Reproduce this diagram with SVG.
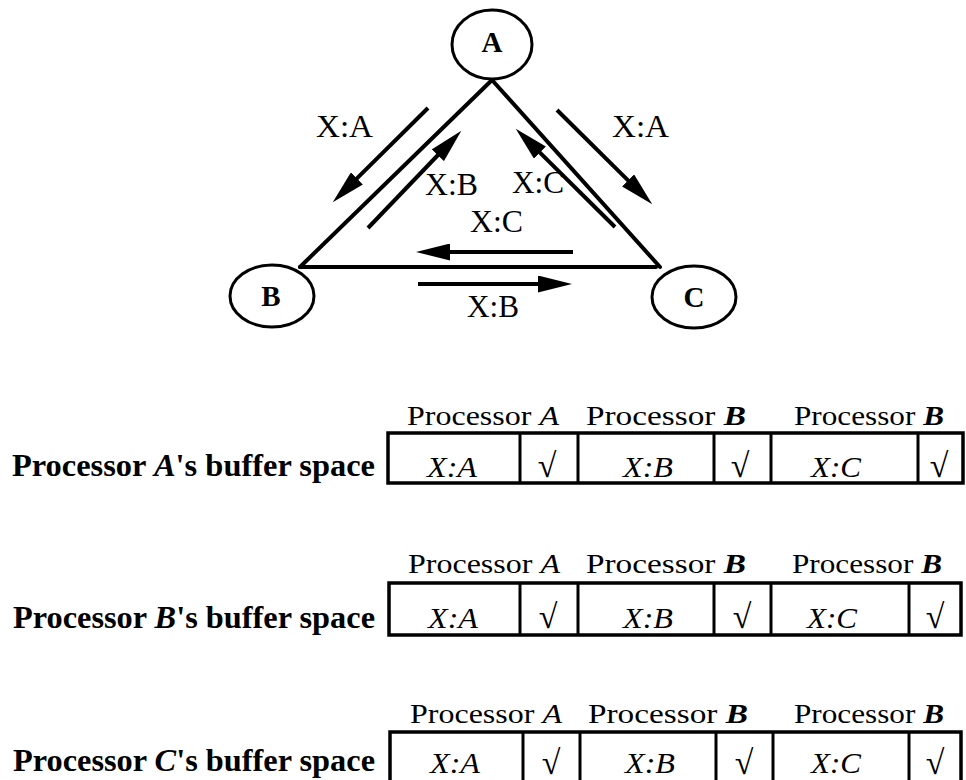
<svg xmlns="http://www.w3.org/2000/svg" width="966" height="780" viewBox="0 0 966 780">
  <style>
    .edge { stroke: #000; stroke-width: 4; fill: none; stroke-linecap: round; }
    .arrow { stroke: #000; stroke-width: 4; fill: none; stroke-linecap: butt; marker-end: url(#head); }
    .node { fill: #fff; stroke: #000; stroke-width: 3; }
    .nlabel { font-family: "Liberation Serif", "Times New Roman", serif; font-weight: bold; font-size: 29px; text-anchor: middle; }
    .elabel { font-family: "Liberation Serif", "Times New Roman", serif; font-size: 31px; }
    .hdr { font-family: "Liberation Serif", "Times New Roman", serif; font-size: 28px; }
    .rowlbl { font-family: "Liberation Serif", "Times New Roman", serif; font-size: 32px; font-weight: bold; }
    .cell { font-family: "Liberation Serif", "Times New Roman", serif; font-size: 29px; font-style: italic; text-anchor: middle; }
    .tick { font-family: "Liberation Serif", "DejaVu Serif", serif; font-size: 34px; text-anchor: middle; }
    .box { fill: none; stroke: #000; stroke-width: 3.5; }
    .div { stroke: #000; stroke-width: 3; }
  </style>
  <defs>
    <marker id="head" markerUnits="userSpaceOnUse" markerWidth="34" markerHeight="17" viewBox="0 0 34 17" refX="1" refY="8.5" orient="auto">
      <path d="M0,0 L34,8.5 L0,17 z" fill="#000"/>
    </marker>
  </defs>
  <rect width="966" height="780" fill="#fff"/>

  <!-- links between processors, with message flows -->
  <g id="connectors">
    <line class="edge" x1="492" y1="80" x2="300" y2="267"/>
    <line class="edge" x1="492" y1="80" x2="660" y2="267"/>
    <line class="edge" x1="300" y1="267" x2="656" y2="267"/>

    <line class="arrow" x1="428" y1="108" x2="356.2" y2="179.1"/>
    <line class="arrow" x1="368" y1="228" x2="438.5" y2="154.5"/>
    <line class="arrow" x1="615" y1="227" x2="539.2" y2="151.9"/>
    <line class="arrow" x1="557" y1="110" x2="628.8" y2="181.1"/>
    <line class="arrow" x1="573" y1="252" x2="449" y2="252"/>
    <line class="arrow" x1="418" y1="284" x2="539" y2="284"/>

    <text class="elabel" x="316" y="137" textLength="57" lengthAdjust="spacingAndGlyphs">X:A</text>
    <text class="elabel" x="612" y="137" textLength="57" lengthAdjust="spacingAndGlyphs">X:A</text>
    <text class="elabel" x="425" y="195" textLength="53" lengthAdjust="spacingAndGlyphs">X:B</text>
    <text class="elabel" x="512" y="193" textLength="52" lengthAdjust="spacingAndGlyphs">X:C</text>
    <text class="elabel" x="470" y="232" textLength="53" lengthAdjust="spacingAndGlyphs">X:C</text>
    <text class="elabel" x="467" y="317" textLength="52" lengthAdjust="spacingAndGlyphs">X:B</text>
  </g>

  <g id="node-A">
    <ellipse class="node" cx="492" cy="44.5" rx="40" ry="34.5"/>
    <text class="nlabel" x="492" y="52">A</text>
  </g>
  <g id="node-B">
    <ellipse class="node" cx="272" cy="296" rx="42" ry="31"/>
    <text class="nlabel" x="271" y="306">B</text>
  </g>
  <g id="node-C">
    <ellipse class="node" cx="694" cy="297" rx="42" ry="31"/>
    <text class="nlabel" x="694" y="307">C</text>
  </g>

  <!-- buffer space of processor A -->
  <g id="buffer-A">
    <text class="hdr" x="407" y="425" textLength="152" lengthAdjust="spacingAndGlyphs">Processor <tspan font-style="italic">A</tspan></text>
    <text class="hdr" x="586" y="425" textLength="160" lengthAdjust="spacingAndGlyphs">Processor <tspan font-style="italic" font-weight="bold">B</tspan></text>
    <text class="hdr" x="794" y="425" textLength="150" lengthAdjust="spacingAndGlyphs">Processor <tspan font-style="italic" font-weight="bold">B</tspan></text>
    <text class="rowlbl" x="12" y="476" textLength="363" lengthAdjust="spacingAndGlyphs">Processor <tspan font-style="italic">A</tspan>'s buffer space</text>
    <rect class="box" x="388" y="433" width="575" height="50"/>
    <line class="div" x1="520" y1="433" x2="520" y2="483"/>
    <line class="div" x1="578" y1="433" x2="578" y2="483"/>
    <line class="div" x1="714" y1="433" x2="714" y2="483"/>
    <line class="div" x1="771" y1="433" x2="771" y2="483"/>
    <line class="div" x1="918" y1="433" x2="918" y2="483"/>
    <text class="cell" x="452" y="477" textLength="50" lengthAdjust="spacingAndGlyphs">X:A</text>
    <text class="tick" x="547" y="477">√</text>
    <text class="cell" x="648" y="477" textLength="50" lengthAdjust="spacingAndGlyphs">X:B</text>
    <text class="tick" x="740" y="477">√</text>
    <text class="cell" x="836" y="477" textLength="50" lengthAdjust="spacingAndGlyphs">X:C</text>
    <text class="tick" x="939" y="477">√</text>
  </g>

  <!-- buffer space of processor B -->
  <g id="buffer-B">
    <text class="hdr" x="408" y="573" textLength="152" lengthAdjust="spacingAndGlyphs">Processor <tspan font-style="italic">A</tspan></text>
    <text class="hdr" x="586" y="573" textLength="160" lengthAdjust="spacingAndGlyphs">Processor <tspan font-style="italic" font-weight="bold">B</tspan></text>
    <text class="hdr" x="792" y="573" textLength="150" lengthAdjust="spacingAndGlyphs">Processor <tspan font-style="italic" font-weight="bold">B</tspan></text>
    <text class="rowlbl" x="13" y="628" textLength="362" lengthAdjust="spacingAndGlyphs">Processor <tspan font-style="italic">B</tspan>'s buffer space</text>
    <rect class="box" x="389" y="583" width="572" height="52"/>
    <line class="div" x1="520" y1="583" x2="520" y2="635"/>
    <line class="div" x1="578" y1="583" x2="578" y2="635"/>
    <line class="div" x1="714" y1="583" x2="714" y2="635"/>
    <line class="div" x1="771" y1="583" x2="771" y2="635"/>
    <line class="div" x1="909" y1="583" x2="909" y2="635"/>
    <text class="cell" x="453" y="628" textLength="50" lengthAdjust="spacingAndGlyphs">X:A</text>
    <text class="tick" x="548" y="628">√</text>
    <text class="cell" x="648" y="628" textLength="50" lengthAdjust="spacingAndGlyphs">X:B</text>
    <text class="tick" x="742" y="628">√</text>
    <text class="cell" x="832" y="628" textLength="50" lengthAdjust="spacingAndGlyphs">X:C</text>
    <text class="tick" x="935" y="628">√</text>
  </g>

  <!-- buffer space of processor C -->
  <g id="buffer-C">
    <text class="hdr" x="410" y="723" textLength="152" lengthAdjust="spacingAndGlyphs">Processor <tspan font-style="italic">A</tspan></text>
    <text class="hdr" x="588" y="723" textLength="160" lengthAdjust="spacingAndGlyphs">Processor <tspan font-style="italic" font-weight="bold">B</tspan></text>
    <text class="hdr" x="794" y="723" textLength="150" lengthAdjust="spacingAndGlyphs">Processor <tspan font-style="italic" font-weight="bold">B</tspan></text>
    <text class="rowlbl" x="13" y="771" textLength="362" lengthAdjust="spacingAndGlyphs">Processor <tspan font-style="italic">C</tspan>'s buffer space</text>
    <rect class="box" x="390" y="732" width="571" height="52"/>
    <line class="div" x1="523" y1="732" x2="523" y2="784"/>
    <line class="div" x1="580" y1="732" x2="580" y2="784"/>
    <line class="div" x1="716" y1="732" x2="716" y2="784"/>
    <line class="div" x1="773" y1="732" x2="773" y2="784"/>
    <line class="div" x1="909" y1="732" x2="909" y2="784"/>
    <text class="cell" x="455" y="773" textLength="50" lengthAdjust="spacingAndGlyphs">X:A</text>
    <text class="tick" x="551" y="774">√</text>
    <text class="cell" x="650" y="773" textLength="50" lengthAdjust="spacingAndGlyphs">X:B</text>
    <text class="tick" x="744" y="774">√</text>
    <text class="cell" x="836" y="773" textLength="50" lengthAdjust="spacingAndGlyphs">X:C</text>
    <text class="tick" x="935" y="774">√</text>
  </g>
</svg>
